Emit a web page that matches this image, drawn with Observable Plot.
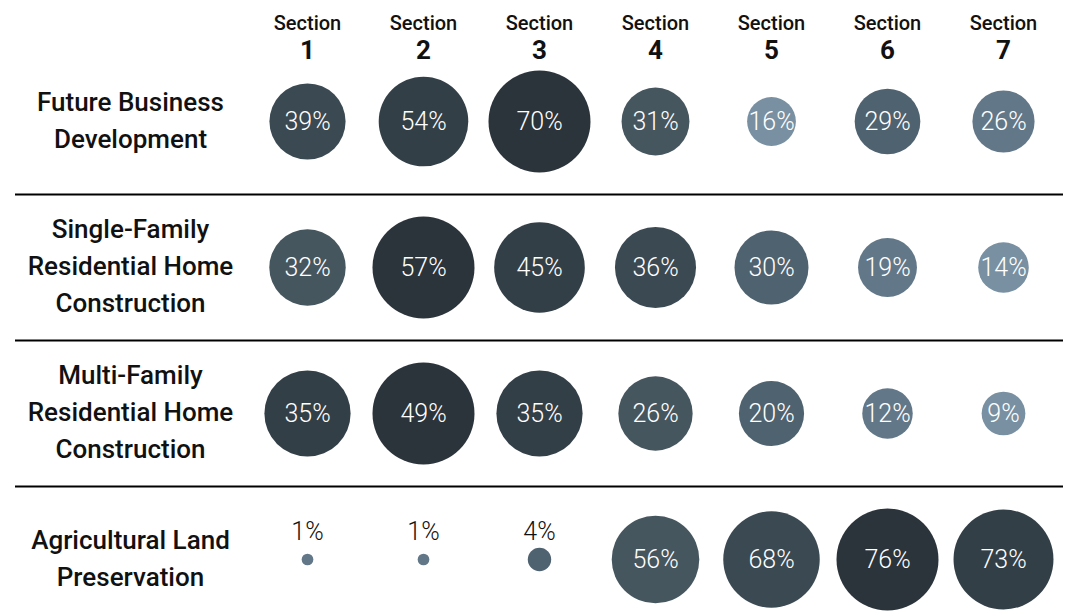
<!DOCTYPE html>
<html>
<head>
<meta charset="utf-8">
<script src="https://cdn.jsdelivr.net/npm/d3@7"></script>
<script src="https://cdn.jsdelivr.net/npm/@observablehq/plot@0.6"></script>
<style>
  html, body { margin: 0; padding: 0; background: #fff; }
  #chart svg { display: block; }
</style>
</head>
<body>
<div id="chart"></div>
<script>
// ---- Data ----
const sections = ["1", "2", "3", "4", "5", "6", "7"];
const rowNames = [
  "Future Business Development",
  "Single-Family Residential Home Construction",
  "Multi-Family Residential Home Construction",
  "Agricultural Land Preservation"
];
const rowLabels = [
  "Future Business\nDevelopment",
  "Single-Family\nResidential Home\nConstruction",
  "Multi-Family\nResidential Home\nConstruction",
  "Agricultural Land\nPreservation"
];
const futureBusiness = [39, 54, 70, 31, 16, 29, 26];
const singleFamily   = [32, 57, 45, 36, 30, 19, 14];
const multiFamily    = [35, 49, 35, 26, 20, 12, 9];
const agricultural   = [1, 1, 4, 56, 68, 76, 73];
const palette = ["#2b333b", "#333f47", "#3b4952", "#46565f", "#4f6270", "#627889", "#7890a1"];

// ---- Table built from the arrays ----
const seriesByRow = [futureBusiness, singleFamily, multiFamily, agricultural];
const data = [];
rowNames.forEach((row, ri) => {
  const vals = seriesByRow[ri];
  const max = d3.max(vals);
  vals.forEach((v, si) => {
    data.push({
      row,
      section: sections[si],
      value: v,
      share: v / max,
      rank: vals.filter(w => w > v).length
    });
  });
});

const font = "Roboto, 'Noto Sans', sans-serif";

const chart = Plot.plot({
  width: 1068,
  height: 612,
  marginTop: 0,
  marginBottom: 0,
  marginLeft: 15,
  marginRight: 5,
  x: {type: "point", domain: sections, range: [305, 1005], padding: 0, axis: null},
  y: {type: "point", domain: rowNames, range: [120, 560], padding: 0, axis: null},
  r: {type: "sqrt", domain: [0, 1], range: [0, 51]},
  color: {type: "ordinal", domain: d3.range(7), range: palette},
  style: {fontFamily: font, background: "#fff", color: "#111"},
  marks: [
    Plot.ruleY(rowNames.slice(1), {y: d => d, dy: -73, stroke: "#000", strokeWidth: 2}),
    Plot.dot(data, {x: "section", y: "row", r: "share", fill: "rank"}),
    Plot.text(data.filter(d => d.share >= 0.15), {
      x: "section", y: "row", text: d => d.value + "%",
      fill: "#fff", fontSize: 25, fontWeight: 300
    }),
    Plot.text(data.filter(d => d.share < 0.15), {
      x: "section", y: "row", text: d => d.value + "%",
      fill: "#111", fontSize: 25, fontWeight: 300, dy: -28
    }),
    Plot.text(rowNames, {
      y: d => d, frameAnchor: "left", dx: 115, dy: -4,
      text: (d, i) => rowLabels[i], textAnchor: "middle", lineAnchor: "middle",
      lineHeight: 1.42, fontSize: 26, fontWeight: 500, fill: "#111"
    }),
    Plot.text(sections, {
      x: d => d, frameAnchor: "top", lineAnchor: "middle", dy: 23, text: () => "Section",
      fontSize: 20, fontWeight: 500, fill: "#111"
    }),
    Plot.text(sections, {
      x: d => d, frameAnchor: "top", lineAnchor: "middle", dy: 50, text: d => d,
      fontSize: 26, fontWeight: 700, fill: "#111"
    })
  ]
});
document.getElementById("chart").appendChild(chart);
</script>
</body>
</html>
